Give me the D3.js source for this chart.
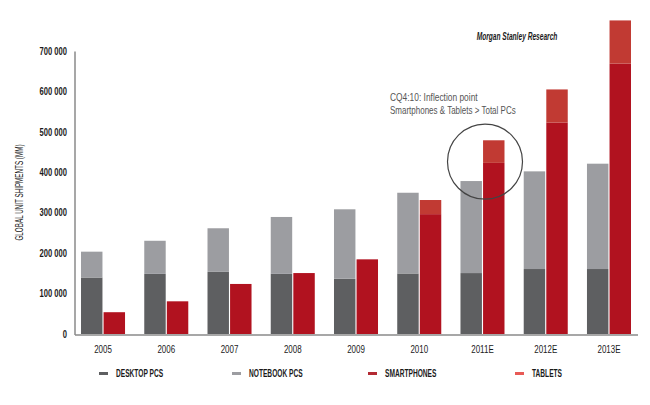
<!DOCTYPE html>
<html><head><meta charset="utf-8">
<script src="https://cdn.jsdelivr.net/npm/d3@7"></script>
<style>
body{margin:0;background:#fff;}
svg{display:block;font-family:"Liberation Sans",Arial,sans-serif;}
</style></head>
<body><svg id="c" width="650" height="405"></svg>
<script>
const years = ["2005","2006","2007","2008","2009","2010","2011E","2012E","2013E"];
const desktop = [140000,149000,154000,149000,137000,150000,151000,161000,161000];
const notebook = [64000,82000,108000,141000,172000,200000,228000,242000,261000];
const smartphones = [54000,81000,124000,151000,185000,297000,424000,524000,670000];
const tablets = [0,0,0,0,0,35000,56000,82000,107000];
const yTicks = [0,100000,200000,300000,400000,500000,600000,700000];
const legendLabels = ["DESKTOP PCS","NOTEBOOK PCS","SMARTPHONES","TABLETS"];
const colors = {desktop:"#5e5f61", notebook:"#9c9da1", smart:"#b1121f", tablet:"#c13a33"};
const legendColors = ["#5e5f61","#9c9da1","#b32a33","#e85a56"];

const svg = d3.select("#c");
const x = d3.scaleBand().domain(years).range([71.4,640.6]).paddingInner(0.304).paddingOuter(0.152);
const xi = d3.scaleBand().domain(["pc","mob"]).range([0,x.bandwidth()]).paddingInner(0.05);
const y = d3.scaleLinear().domain([0,700000]).range([334,51.5]);

// y tick labels
const fmt = v => v===0 ? "0" : d3.format(",")(v).replace(/,/g," ");
svg.append("g").selectAll("text").data(yTicks).join("text")
  .attr("transform",d=>`translate(67,${y(d)}) scale(0.76,1)`)
  .attr("dy","0.35em").attr("text-anchor","end")
  .attr("font-size",10).attr("font-weight","bold").attr("fill","#1a1a1a").text(fmt);

// axis title
svg.append("text").attr("transform","translate(23,192.5) rotate(-90) scale(0.6,1)")
  .attr("text-anchor","middle").attr("font-size",10.5).attr("fill","#1a1a1a")
  .text("GLOBAL UNIT SHIPMENTS (MM)");

const g = svg.append("g");
years.forEach((yr,i)=>{
  const x0 = x(yr);
  const pcx = x0 + xi("pc"), mx = x0 + xi("mob"), w = xi.bandwidth();
  g.append("rect").attr("x",pcx).attr("width",w).attr("y",y(desktop[i])).attr("height",y(0)-y(desktop[i])).attr("fill",colors.desktop);
  const nt = desktop[i]+notebook[i];
  g.append("rect").attr("x",pcx).attr("width",w).attr("y",y(nt)).attr("height",y(desktop[i])-y(nt)).attr("fill",colors.notebook);
  g.append("rect").attr("x",mx).attr("width",w).attr("y",y(smartphones[i])).attr("height",y(0)-y(smartphones[i])).attr("fill",colors.smart);
  if(tablets[i]>0){
    const tt = smartphones[i]+tablets[i];
    g.append("rect").attr("x",mx).attr("width",w).attr("y",y(tt)).attr("height",y(smartphones[i])-y(tt)).attr("fill",colors.tablet);
  }
});

// axes lines
svg.append("line").attr("x1",75).attr("x2",75).attr("y1",y(700000)).attr("y2",y(0)+1).attr("stroke","#8a8a8a").attr("stroke-width",1.5);
svg.append("line").attr("x1",75).attr("x2",638).attr("y1",y(0)+1).attr("y2",y(0)+1).attr("stroke","#8a8a8a").attr("stroke-width",1.5);

// x labels
svg.append("g").selectAll("text").data(years).join("text")
  .attr("transform",d=>`translate(${x(d)+x.bandwidth()/2},353) scale(0.76,1)`)
  .attr("text-anchor","middle")
  .attr("font-size",10.5).attr("fill","#1a1a1a").text(d=>d);

// annotation
svg.append("text").attr("transform","translate(390,100.5) scale(0.84,1)").attr("font-size",10).attr("fill","#555").text("CQ4:10: Inflection point");
svg.append("text").attr("transform","translate(390,113.5) scale(0.8,1)").attr("font-size",10).attr("fill","#555").text("Smartphones & Tablets > Total PCs");
svg.append("circle").attr("cx",485).attr("cy",161.7).attr("r",37.5).attr("fill","none").attr("stroke","#444").attr("stroke-width",1.2);

// source
svg.append("text").attr("transform","translate(517,39.5) scale(0.66,1)").attr("text-anchor","middle").attr("font-size",10)
  .attr("font-weight","bold").attr("font-style","italic").attr("fill","#1a1a1a").text("Morgan Stanley Research");

// legend
const lx = [99,232,368,515];
const lg = svg.append("g").selectAll("g").data(legendLabels).join("g")
  .attr("transform",(d,i)=>`translate(${lx[i]},373.5)`);
lg.append("rect").attr("x",0).attr("y",-1.5).attr("width",9).attr("height",3).attr("fill",(d,i)=>legendColors[i]);
lg.append("text").attr("transform","translate(17,0) scale(0.63,1)").attr("dy","0.35em").attr("font-size",10.5).attr("font-weight","bold").attr("fill","#1a1a1a").text(d=>d);
</script></body></html>
